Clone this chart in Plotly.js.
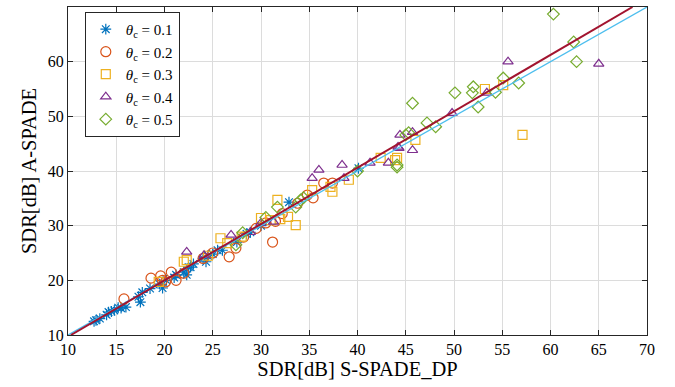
<!DOCTYPE html>
<html><head><meta charset="utf-8">
<script src="https://cdn.plot.ly/plotly-3.0.1.min.js"></script>
<style>body{margin:0;background:#fff}#c{width:675px;height:387px}</style>
</head><body><div id="c"></div>
<script>
const x01 = [12.7,12.9,13.3,14.0,14.2,14.5,14.8,15.2,15.5,16.0,17.3,17.5,17.7,18.5,19.5,19.8,20.2,21.0,21.2,22.0,22.3,22.5,22.7,23.0,24.0,24.3,24.5,25.0,25.5,26.0,27.5,28.5,28.9,30.0,32.9,40.1];
const y01 = [12.5,12.7,13.0,13.7,14.2,14.3,14.5,15.0,14.9,15.1,17.0,16.0,17.8,18.5,19.3,18.6,20.0,20.5,21.0,21.5,21.0,22.4,22.4,23.0,24.0,23.4,24.5,24.8,25.5,25.5,27.0,28.5,28.8,30.0,34.3,40.5];
const x02 = [15.8,18.6,19.6,19.8,20.1,20.7,21.2,22.0,24.0,25.0,26.7,27.4,28.2,29.5,30.5,31.2,31.5,32.2,33.8,34.8,35.4,36.5,37.4];
const y02 = [16.6,20.4,20.8,20.0,19.7,21.5,20.0,21.3,24.0,25.0,24.3,25.9,27.9,29.5,30.5,27.0,30.8,32.2,34.1,35.6,35.1,37.8,37.8];
const x03 = [19.4,22.0,22.3,24.5,25.8,26.5,28.0,30.0,31.0,31.7,32.0,32.8,33.6,35.3,37.2,37.4,39.1,42.4,43.9,44.1,46.0,53.2,55.1,57.1];
const y03 = [19.7,23.4,23.7,24.5,27.7,26.8,28.0,31.4,31.0,34.7,31.2,31.6,30.1,36.5,37.1,36.2,38.4,42.4,42.0,42.4,45.7,55.0,55.7,46.6];
const x04 = [22.3,24.1,26.9,28.9,30.0,31.3,35.3,36.0,38.4,38.6,41.3,43.2,44.2,44.3,44.4,45.7,45.7,49.8,53.4,55.6,65.0];
const y04 = [25.2,24.6,28.3,28.8,30.5,30.7,38.7,40.2,41.1,38.7,41.5,41.5,44.4,44.2,46.6,47.1,43.8,50.6,54.3,60.0,59.6];
const x05 = [27.4,28.1,30.5,31.7,33.6,34.1,34.4,40.0,44.1,44.1,45.0,45.3,45.7,47.2,48.1,50.1,51.9,52.0,52.5,54.3,55.1,56.7,60.3,62.4,62.7];
const y05 = [26.5,28.7,31.5,33.4,33.4,34.7,35.1,40.0,41.1,40.7,46.6,47.0,52.4,48.8,48.1,54.3,54.3,55.4,51.7,54.4,57.0,56.1,68.7,63.6,60.0];
const idX = [10,70], idY = [10,70];
const fitX = [10.3,68.5], fitY = [10,70];
const names = ['0.1','0.2','0.3','0.4','0.5'];

const FF = '"Liberation Serif", "Times New Roman", Times, serif';
const colors = ['#0072BD','#D95319','#EDB120','#7E2F8E','#77AC30'];
const symbols = ['asterisk-open','circle-open','square-open','triangle-up-open','diamond-open'];
const sizes = [9,10,9,9,9];
const xs=[x01,x02,x03,x04,x05], ys=[y01,y02,y03,y04,y05];
const traces = xs.map((x,i)=>({
  x:x, y:ys[i], type:'scatter', mode:'markers',
  name:'<i>θ</i><sub>c</sub> = '+names[i],
  marker:{symbol:symbols[i], size:sizes[i], color:colors[i], line:{color:colors[i], width:1.2}}
}));
traces.push({x:idX,y:idY,type:'scatter',mode:'lines',showlegend:false,line:{color:'#4DBEEE',width:1.3}});
traces.push({x:fitX,y:fitY,type:'scatter',mode:'lines',showlegend:false,line:{color:'#A2142F',width:2}});

const ax = {
  showline:true, mirror:'allticks', linecolor:'#262626', linewidth:1,
  ticks:'inside', ticklen:5, tickcolor:'#262626',
  showgrid:true, gridcolor:'#DCDCDC', gridwidth:1, zeroline:false,
  tickfont:{family:FF, size:16, color:'#000'}
};
const layout = {
  width:675, height:387,
  margin:{l:68, r:28, t:7, b:52},
  paper_bgcolor:'#fff', plot_bgcolor:'#fff',
  font:{family:FF, color:'#000'},
  xaxis:Object.assign({}, ax, {range:[10,70], dtick:5, tick0:10,
    title:{text:'SDR[dB] S-SPADE_DP', font:{family:FF, size:20.5}, standoff:1}}),
  yaxis:Object.assign({}, ax, {range:[10,70], dtick:10, tick0:10,
    title:{text:'SDR[dB] A-SPADE', font:{family:FF, size:20.5}, standoff:5}}),
  legend:{x:0.029, y:0.985, xanchor:'left', yanchor:'top', bgcolor:'#fff',
    bordercolor:'#262626', borderwidth:1, font:{family:FF, size:15}, tracegroupgap:0, itemwidth:30},
  showlegend:true
};
Plotly.newPlot('c', traces, layout, {staticPlot:true});
</script></body></html>
